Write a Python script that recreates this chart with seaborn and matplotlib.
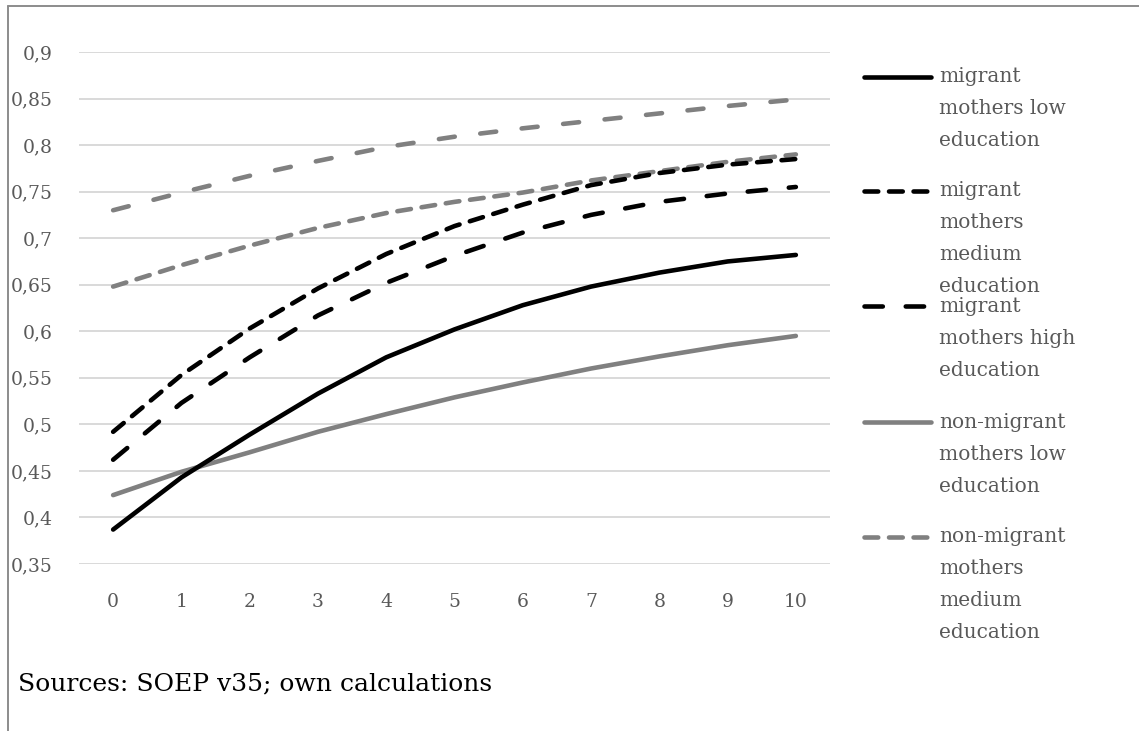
import matplotlib
matplotlib.use("Agg")
import matplotlib.pyplot as plt
from matplotlib.lines import Line2D
from matplotlib.ticker import FuncFormatter
import seaborn as sns
import pandas as pd

# ---- data ----
years = [0, 1, 2, 3, 4, 5, 6, 7, 8, 9, 10]
migrant_low = [0.387, 0.443, 0.489, 0.533, 0.572, 0.602, 0.628, 0.648, 0.663, 0.675, 0.682]
migrant_medium = [0.492, 0.553, 0.603, 0.646, 0.683, 0.713, 0.736, 0.757, 0.770, 0.779, 0.785]
migrant_high = [0.462, 0.523, 0.572, 0.617, 0.652, 0.681, 0.706, 0.725, 0.739, 0.748, 0.755]
nonmigrant_low = [0.424, 0.449, 0.470, 0.492, 0.511, 0.529, 0.545, 0.560, 0.573, 0.585, 0.595]
nonmigrant_medium = [0.648, 0.671, 0.692, 0.711, 0.727, 0.739, 0.749, 0.762, 0.772, 0.782, 0.790]
nonmigrant_high = [0.730, 0.749, 0.767, 0.783, 0.798, 0.809, 0.818, 0.826, 0.834, 0.842, 0.849]

series_names = ["migrant mothers low education", "migrant mothers medium education",
                "migrant mothers high education", "non-migrant mothers low education",
                "non-migrant mothers medium education", "non-migrant mothers high education"]
legend_lines = [["migrant", "mothers low", "education"],
                ["migrant", "mothers", "medium", "education"],
                ["migrant", "mothers high", "education"],
                ["non-migrant", "mothers low", "education"],
                ["non-migrant", "mothers", "medium", "education"]]
y_ticks = [0.35, 0.4, 0.45, 0.5, 0.55, 0.6, 0.65, 0.7, 0.75, 0.8, 0.85, 0.9]
source_text = "Sources: SOEP v35; own calculations"

# ---- style ----
sns.set_theme(style="white")
plt.rcParams["font.family"] = ["DejaVu Serif", "DejaVu Sans"]

W, H = 1139, 731
fig = plt.figure(figsize=(W / 100, H / 100), dpi=100)
ax = fig.add_axes([79 / W, 1 - 564 / H, (830 - 79) / W, (564 - 52) / H])

BLACK = "#000000"
GRAY = "#808080"
LW = 3.3
SHORT = (3.0, 2.35)
LONG = (4.0, 5.0)
GLONG = (3.5, 5.6)
styles = [
    (BLACK, None),
    (BLACK, SHORT),
    (BLACK, LONG),
    (GRAY, None),
    (GRAY, SHORT),
    (GRAY, GLONG),
]
values = [migrant_low, migrant_medium, migrant_high, nonmigrant_low, nonmigrant_medium, nonmigrant_high]

df = pd.DataFrame({"year": years * len(values),
                   "share": sum(values, []),
                   "group": sum([[n] * len(years) for n in series_names], [])})

# draw back to front: gray series first
order = [5, 4, 3, 2, 1, 0]
for i in order:
    col, dash = styles[i]
    sub = df[df["group"] == series_names[i]]
    sns.lineplot(data=sub, x="year", y="share", color=col, lw=LW, ax=ax,
                 legend=False, solid_capstyle="round")
    ln = ax.lines[-1]
    ln.set_dash_capstyle("round")
    if dash is not None:
        ln.set_dashes(dash)

ax.set_xlim(-0.5, 10.5)
ax.set_ylim(0.35, 0.9)
ax.set_xticks(years)
ax.set_xticklabels([str(y) for y in years])
ax.set_yticks(y_ticks)
ax.yaxis.set_major_formatter(FuncFormatter(lambda v, p: f"{v:g}".replace(".", ",")))
ax.grid(axis="y", color="#d9d9d9", lw=1.4)
ax.set_axisbelow(True)
for s in ax.spines.values():
    s.set_visible(False)
ax.tick_params(axis="both", length=0, colors="#595959", labelsize=13.5)
ax.tick_params(axis="x", pad=21)
ax.tick_params(axis="y", pad=19)
ax.set_xlabel("")
ax.set_ylabel("")

# ---- manual legend (Excel-style wrapped entries) ----
entry_y = [77, 191, 306, 422, 537]
line_gap = 32
for k, lines in enumerate(legend_lines):
    col, dash = styles[k]
    yf = 1 - entry_y[k] / H
    h = Line2D([864 / W, 931 / W], [yf, yf], transform=fig.transFigure, color=col, lw=LW,
               solid_capstyle="round", dash_capstyle="round")
    if dash is not None:
        h.set_dashes(dash)
    fig.add_artist(h)
    for j, t in enumerate(lines):
        fig.text(939 / W, 1 - (entry_y[k] + j * line_gap) / H, t, color="#595959",
                 fontsize=14.5, va="center", ha="left")

# ---- source note and frame ----
fig.text(18 / W, 1 - 684 / H, source_text, color="#000000", fontsize=18, va="center", ha="left")
fig.add_artist(Line2D([8 / W, 8 / W], [0, 1 - 6 / H], transform=fig.transFigure, color="#8c8c8c", lw=1.4))
fig.add_artist(Line2D([8 / W, 1], [1 - 6 / H, 1 - 6 / H], transform=fig.transFigure, color="#8c8c8c", lw=1.4))

fig.savefig("out.png", dpi=100)
